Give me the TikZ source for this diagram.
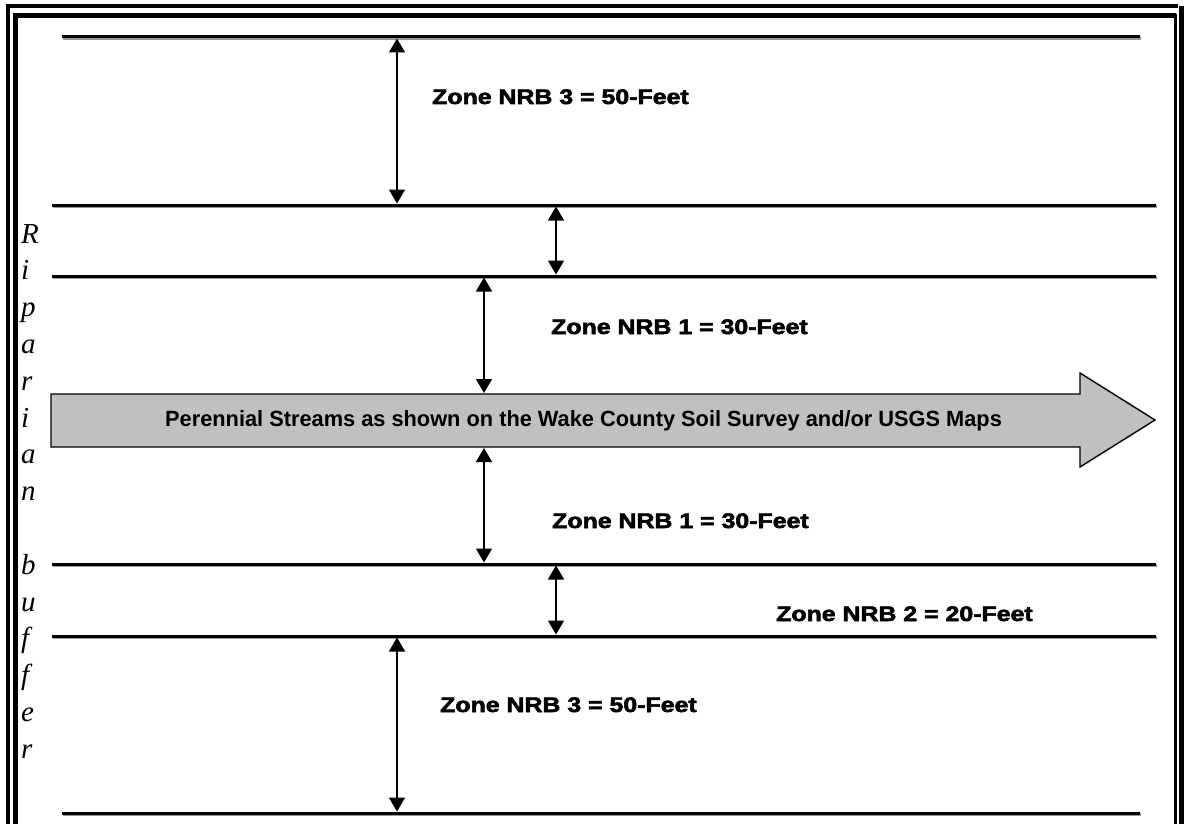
\documentclass[tikz,border=0pt]{standalone}
\usepackage{fontspec}
\setmainfont{Liberation Serif}
\newfontfamily\zonefont[FakeBold=2.5]{Liberation Sans Bold}
\newfontfamily\streamfont{Liberation Sans Bold}
\usetikzlibrary{arrows.meta}
\definecolor{streamgray}{RGB}{192,192,192}
\definecolor{shadowgray}{RGB}{150,150,150}
\newcommand{\zonetext}[1]{\scalebox{1.185}[1]{#1}}
\begin{document}
\begin{tikzpicture}[x=1pt,y=-1pt,
  zonelabel/.style={font=\zonefont\fontsize{21}{24}\selectfont, anchor=base west, inner sep=0pt},
  dimarrow/.style={line width=1.5pt, {Triangle[width=16pt,length=14pt]}-{Triangle[width=16pt,length=14pt]}},
  bufline/.style={line width=3pt, line cap=butt},
  bufshadow/.style={line width=3pt, shadowgray},
  riparian/.style={font=\itshape\fontsize{29}{30}\selectfont, anchor=base west, inner sep=0pt},
  streamshape/.style={draw=black, line width=1.4pt, fill=streamgray, line join=miter},
  streamtext/.style={font=\streamfont\fontsize{22}{24}\selectfont, anchor=base west, inner sep=0pt}
]
\useasboundingbox (0,0) rectangle (1186,824);

% page border
\draw[line width=3.5pt] (8,824) -- (8,6.25) -- (1178,6.25);
\draw[line width=5.5pt] (15.5,824) -- (15.5,15.5) -- (1176,15.5);
\draw[line width=3pt] (1175.5,14) -- (1175.5,824);
\draw[line width=5pt] (1181,6) -- (1181,824);

% buffer boundary lines
\coordinate (L1w) at (62,37);   \coordinate (L1e) at (1140,37);
\coordinate (L2w) at (52,205);  \coordinate (L2e) at (1156,205);
\coordinate (L3w) at (52,276);  \coordinate (L3e) at (1156,276);
\coordinate (L4w) at (52,564);  \coordinate (L4e) at (1156,564);
\coordinate (L5w) at (52,636);  \coordinate (L5e) at (1156,636);
\coordinate (L6w) at (62,813);  \coordinate (L6e) at (1140,813);
\foreach \n in {1,...,6}{
  \draw[bufshadow] ([shift={(1,1.3)}]L\n w) -- ([shift={(1,1.3)}]L\n e);
  \draw[bufline] (L\n w) -- (L\n e);
}

% stream arrow
\coordinate (S1) at (51,394);
\coordinate (S2) at (1080,394);
\coordinate (S3) at (1080,373);
\coordinate (S4) at (1155,420);
\coordinate (S5) at (1080,467);
\coordinate (S6) at (1080,447);
\coordinate (S7) at (51,447);
\draw[streamshape] (S1) -- (S2) -- (S3) -- (S4) -- (S5) -- (S6) -- (S7) -- cycle;
\node[streamtext] (stream) at (165,426) {\scalebox{0.99}[1]{Perennial Streams as shown on the Wake County Soil Survey and/or USGS Maps}};

% dimension arrows
\coordinate (A1t) at (397,38.5);  \coordinate (A1b) at (397,203.5);
\coordinate (A2t) at (556,206.5); \coordinate (A2b) at (556,274.5);
\coordinate (A3t) at (484,277.5); \coordinate (A3b) at (484,393);
\coordinate (A4t) at (484,448);   \coordinate (A4b) at (484,562.5);
\coordinate (A5t) at (556,565.5); \coordinate (A5b) at (556,634.5);
\coordinate (A6t) at (397,637.5); \coordinate (A6b) at (397,811.5);
\draw[dimarrow] (A1t) -- (A1b);
\draw[dimarrow] (A2t) -- (A2b);
\draw[dimarrow] (A3t) -- (A3b);
\draw[dimarrow] (A4t) -- (A4b);
\draw[dimarrow] (A5t) -- (A5b);
\draw[dimarrow] (A6t) -- (A6b);

% zone labels
\node[zonelabel] (z1) at (432,104) {\zonetext{Zone NRB 3 = 50-Feet}};
\node[zonelabel] (z2) at (551,334) {\zonetext{Zone NRB 1 = 30-Feet}};
\node[zonelabel] (z3) at (552,528) {\zonetext{Zone NRB 1 = 30-Feet}};
\node[zonelabel] (z4) at (776,621) {\zonetext{Zone NRB 2 = 20-Feet}};
\node[zonelabel] (z5) at (440,712) {\zonetext{Zone NRB 3 = 50-Feet}};

% vertical "Riparian buffer"
\foreach \l [count=\i from 0] in {R,i,p,a,r,i,a,n,{},b,u,f,f,e,r}{
  \node[riparian] (rip\i) at (21,243+36.8*\i) {\l};
}
\end{tikzpicture}
\end{document}
